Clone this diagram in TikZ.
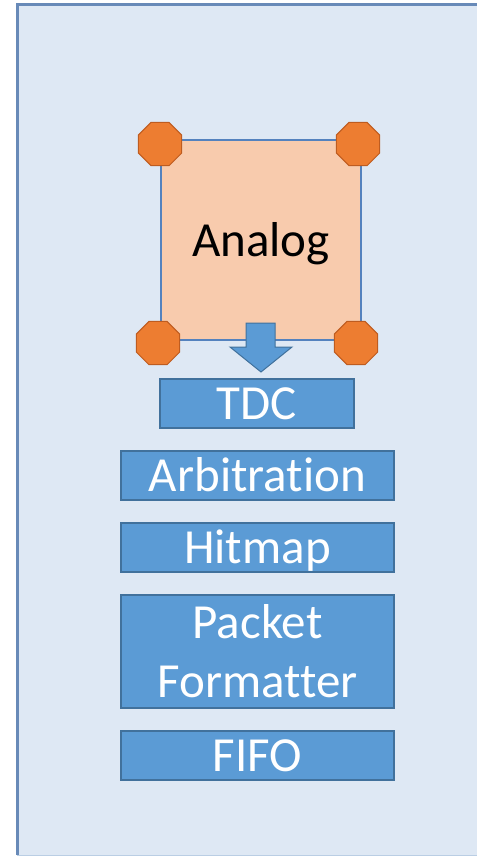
\documentclass[tikz,border=0pt]{standalone}
\usepackage{fontspec}
\setmainfont{Carlito}[Ligatures=CommonOff]
\usetikzlibrary{shapes.geometric}

\definecolor{panelfill}{RGB}{222,232,244}
\definecolor{panelline}{RGB}{104,138,184}
\definecolor{panelbottom}{RGB}{186,206,228}
\definecolor{analogfill}{RGB}{248,203,173}
\definecolor{analogline}{RGB}{84,130,190}
\definecolor{padfill}{RGB}{237,125,49}
\definecolor{padline}{RGB}{190,92,32}
\definecolor{blockfill}{RGB}{91,155,213}
\definecolor{blockline}{RGB}{65,113,156}

\tikzset{
  block/.style={draw=blockline, line width=1.5pt, fill=blockfill, text=white,
    inner sep=0pt, minimum height=49pt, text height=32pt, text depth=0pt,
    font=\fontsize{49}{59}\selectfont, align=center},
  pad/.style={regular polygon, regular polygon sides=8, draw=padline, line width=1pt,
    fill=padfill, minimum size=47pt, inner sep=0pt},
}

\begin{document}
\begin{tikzpicture}[x=1pt, y=-1pt]
			%%%%% START %%%%%
			\useasboundingbox (0, 0) rectangle (477, 857);
			
			% chip outline
			\fill[panelfill] (17, 4) rectangle (477, 855);
			\draw[line width=1pt, color=panelbottom] (17, 855) -- (477, 855);
			\draw[line width=3pt, color=panelline] (17, 855) -- (17, 4) -- (477, 4);
			
			% analog part with its pads
			\node[draw=analogline, line width=1.5pt, fill=analogfill, minimum size=200pt, inner sep=0pt,
				text height=32pt, text depth=0pt, font=\fontsize{49}{59}\selectfont] (analog) at (261, 240) {Analog};
			\node[pad] (padnw) at (160, 144) {};
			\node[pad] (padne) at (358, 144) {};
			\node[pad] (padsw) at (158, 343) {};
			\node[pad] (padse) at (356, 343) {};
			
			% digital blocks
			\node[block, minimum width=194pt] (tdc) at (257, 403.5) {TDC};
			\node[block, minimum width=273pt] (arbitration) at (257.5, 475.5) {Arbitration};
			\node[block, minimum width=273pt] (hitmap) at (257.5, 547.5) {Hitmap};
			\node[block, minimum width=273pt, minimum height=113pt, text height=, text depth=] (packet) at (257.5, 651.5) {Packet\\Formatter};
			\node[block, minimum width=273pt] (fifo) at (257.5, 755.5) {FIFO};
			
			% block arrow from analog down to the TDC
			\draw[fill=blockfill, draw=blockline, line width=1pt]
				(246, 323) -- (275, 323) -- (275, 347) -- (292, 347) -- (261, 372) -- (230, 347) -- (246, 347) -- cycle;
			
			%%%%% END %%%%%
\end{tikzpicture}
\end{document}
